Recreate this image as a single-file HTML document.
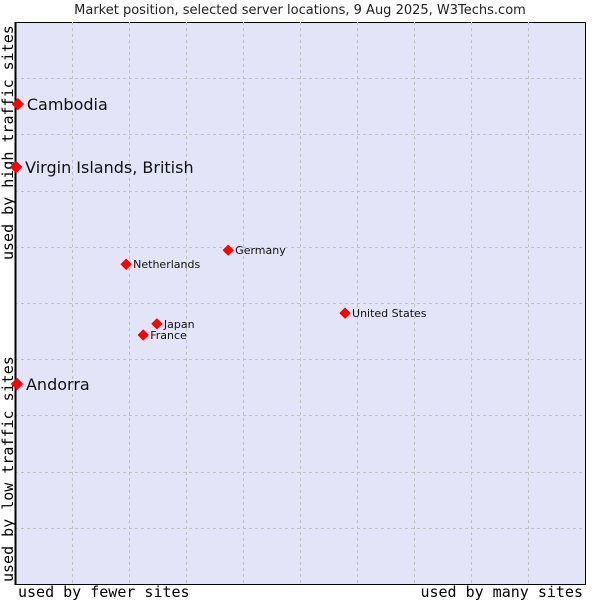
<!DOCTYPE html>
<html><head><meta charset="utf-8"><style>
body{margin:0;background:#fff;}
svg{display:block;font-family:"DejaVu Sans","Liberation Sans",sans-serif;}
.mono{font-family:"DejaVu Sans Mono","Liberation Mono",monospace;}
</style></head><body>
<svg id="chart" width="600" height="600">
<text x="300" y="14" text-anchor="middle" font-size="13" fill="#222">Market position, selected server locations, 9 Aug 2025, W3Techs.com</text>
<rect x="15.5" y="22.5" width="570" height="562" fill="#e3e4f8" stroke="#000" stroke-width="1"/>
<g id="grid"></g>
<line x1="15.5" y1="22" x2="15.5" y2="585" stroke="#000" stroke-width="2"/>
<text class="mono" x="18" y="597" font-size="15" fill="#000">used by fewer sites</text>
<text class="mono" x="583" y="597" text-anchor="end" font-size="15" fill="#000">used by many sites</text>
<text class="mono" transform="translate(13,582) rotate(-90)" font-size="15" fill="#000">used by low traffic sites</text>
<text class="mono" transform="translate(13,260) rotate(-90)" font-size="15" fill="#000">used by high traffic sites</text>
<g id="points"></g>
</svg>
<script>
const names=["Cambodia","Virgin Islands, British","Andorra","Netherlands","Germany","United States","Japan","France"];
const xVals=[0.5,0.2,0.35,19.5,37.4,57.9,24.9,22.5];
const yVals=[85.4,74.2,35.6,56.9,59.4,48.2,46.3,44.3];
const big=[true,true,true,false,false,false,false,false];
const L=15,R=585,T=22,B=584;
const sx=v=>L+v/100*(R-L), sy=v=>B-v/100*(B-T);
const NS="http://www.w3.org/2000/svg";
const grid=document.getElementById('grid');
for(let i=1;i<10;i++){
 const gx=Math.round(sx(i*10))+0.5, gy=Math.round(sy(i*10))+0.5;
 let l=document.createElementNS(NS,'line');
 l.setAttribute('x1',gx);l.setAttribute('x2',gx);l.setAttribute('y1',T);l.setAttribute('y2',B);
 l.setAttribute('stroke','#c0c0c0');l.setAttribute('stroke-dasharray','3,3');
 
 
 grid.appendChild(l);
 l=document.createElementNS(NS,'line');
 l.setAttribute('y1',gy);l.setAttribute('y2',gy);l.setAttribute('x1',L);l.setAttribute('x2',R);
 l.setAttribute('stroke','#c0c0c0');l.setAttribute('stroke-dasharray','3,3');
 
 
 grid.appendChild(l);
}
const pts=document.getElementById('points');
names.forEach((n,i)=>{
 const x=sx(xVals[i]),y=sy(yVals[i]);
 const s=big[i]?5.5:5;
 const p=document.createElementNS(NS,'polygon');
 p.setAttribute('points',`${x},${y-s} ${x+s},${y} ${x},${y+s} ${x-s},${y}`);
 p.setAttribute('fill','#ff0000');
 p.setAttribute('stroke','#ff0000');
 p.setAttribute('stroke-linejoin','round');
 
 
 pts.appendChild(p);
 const t=document.createElementNS(NS,'text');
 t.setAttribute('x',x+(big[i]?9:7));
 t.setAttribute('y',y+(big[i]?6:4));
 t.setAttribute('font-size',big[i]?16:11);
 t.setAttribute('fill','#111');
 t.textContent=n;
 
 
 pts.appendChild(t);
});
</script>
</body></html>
